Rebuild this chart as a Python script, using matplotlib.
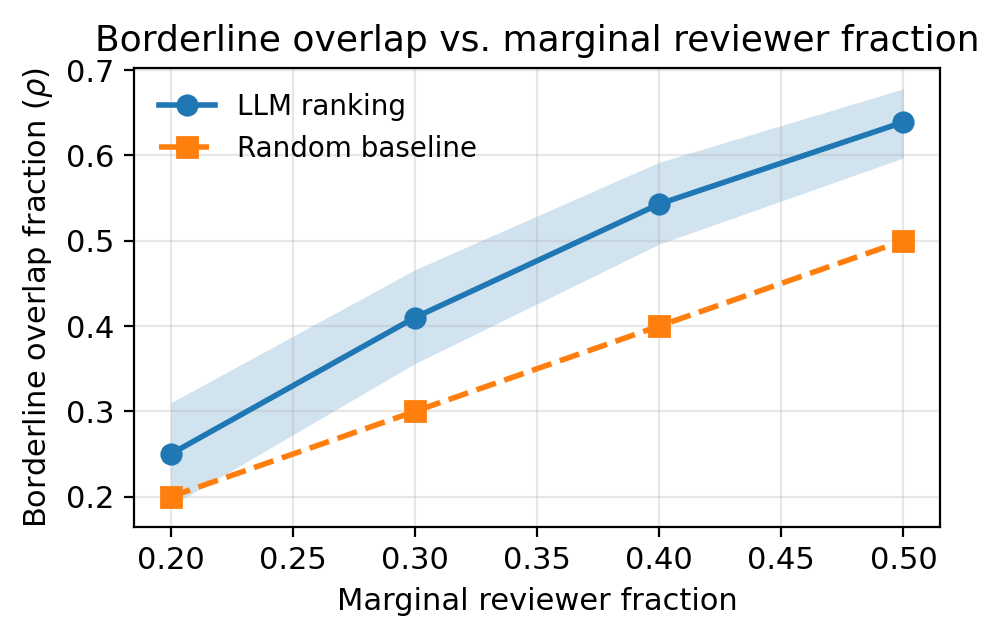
import matplotlib
matplotlib.use("Agg")
import matplotlib.pyplot as plt

fractions = [0.20, 0.30, 0.40, 0.50]
llm_rho = [0.250, 0.410, 0.543, 0.639]
llm_lo = [0.189, 0.356, 0.496, 0.597]
llm_hi = [0.310, 0.466, 0.592, 0.678]
random_rho = [0.20, 0.30, 0.40, 0.50]

plt.rcParams["font.size"] = 11

fig, ax = plt.subplots(figsize=(4.99, 3.195), dpi=200)

ax.fill_between(fractions, llm_lo, llm_hi, color="#1f77b4", alpha=0.2, linewidth=0)
ax.plot(fractions, llm_rho, "-o", color="#1f77b4", lw=2, markersize=7, label="LLM ranking")
ax.plot(fractions, random_rho, "--s", color="#ff7f0e", lw=2, markersize=7, label="Random baseline")

ax.set_xlabel("Marginal reviewer fraction")
ax.set_ylabel(r"Borderline overlap fraction ($\rho$)")
ax.set_title("Borderline overlap vs. marginal reviewer fraction", fontsize=13)
ax.grid(True, alpha=0.3)
ax.legend(loc="upper left", frameon=False, fontsize=10)

plt.subplots_adjust(left=0.1343, right=0.9419, top=0.8936, bottom=0.1753)
plt.savefig("out.png", dpi=200)
